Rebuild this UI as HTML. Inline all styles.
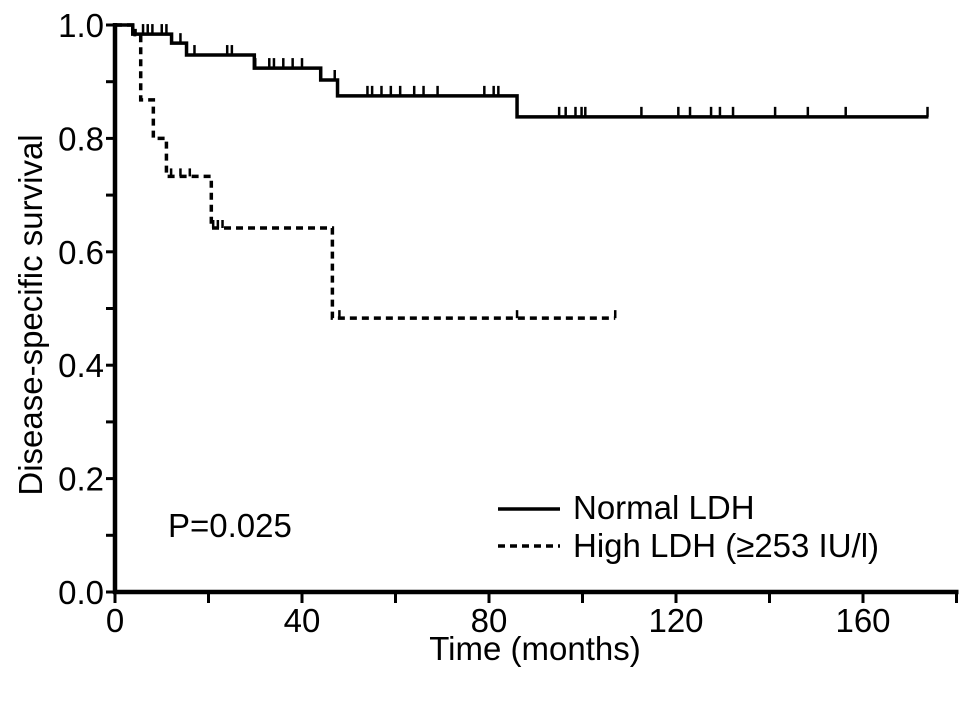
<!DOCTYPE html>
<html><head><meta charset="utf-8">
<style>
html,body{margin:0;padding:0;background:#fff;}
svg{display:block;font-family:"Liberation Sans",Arial,sans-serif;}
</style></head>
<body>
<svg id="chart" width="969" height="704" viewBox="0 0 969 704" xmlns="http://www.w3.org/2000/svg">
<g id="plot"></g>
</svg>
<script>
const xTicks = [0, 20, 40, 60, 80, 100, 120, 140, 160, 180];
const xTickLabels = ["0", "", "40", "", "80", "", "120", "", "160", ""];
const yTicks = [0, 0.1, 0.2, 0.3, 0.4, 0.5, 0.6, 0.7, 0.8, 0.9, 1.0];
const yTickLabels = ["0.0", "", "0.2", "", "0.4", "", "0.6", "", "0.8", "", "1.0"];

const normalTimes = [0, 3.8, 12.1, 15.3, 29.8, 44, 47.6, 86, 174];
const normalSurv = [1.0, 0.984, 0.968, 0.947, 0.924, 0.903, 0.875, 0.838, 0.838];
const normalCensor = [6, 7, 8, 10, 11, 14, 17, 24, 25, 30, 33, 34, 36, 38, 40, 44, 47, 54, 55, 57, 59, 61, 64, 66, 69, 79, 81, 82, 95, 96.4, 98.5, 99.8, 100.6, 112.6, 120.5, 123, 127.5, 129.4, 132.2, 141.2, 148.2, 156.3, 173.8];

const highTimes = [0, 4.3, 5.5, 8.2, 11, 20.6, 46.5, 107];
const highSurv = [1.0, 0.983, 0.868, 0.80, 0.733, 0.642, 0.483, 0.483];
const highCensor = [12, 14, 16, 21, 22, 23, 48, 86, 107];

const X0 = 115, XPM = 4.675, Y0 = 592, YH = 567;
function xs(t){ return X0 + XPM * t; }
function ys(s){ return Y0 - YH * s; }
function survAt(times, surv, t){ let v = surv[0]; for (let i = 0; i < times.length; i++) if (times[i] <= t) v = surv[i]; return v; }

const NS = "http://www.w3.org/2000/svg";
const g = document.getElementById("plot");
function mk(tag, attrs, parent){ const e = document.createElementNS(NS, tag); for (const k in attrs) e.setAttribute(k, attrs[k]); (parent || g).appendChild(e); return e; }

const FS = 33;

const yAxis = mk("line", {x1: X0, y1: ys(1.0) - 2, x2: X0, y2: Y0 + 2, stroke: "#000", "stroke-width": 4.5});


const xAxis = mk("line", {x1: X0 - 2, y1: Y0, x2: xs(180) + 2, y2: Y0, stroke: "#000", "stroke-width": 4.5});



xTicks.forEach((t, i) => {
  const tk = mk("line", {x1: xs(t), y1: Y0, x2: xs(t), y2: Y0 + 11, stroke: "#000", "stroke-width": 3});
  
  
  if (xTickLabels[i]) {
    const tl = mk("text", {x: xs(t), y: Y0 + 40, "text-anchor": "middle", "font-size": FS});
    tl.textContent = xTickLabels[i];
    
    
  }
});
yTicks.forEach((s, i) => {
  const tk = mk("line", {x1: X0 - 9, y1: ys(s), x2: X0, y2: ys(s), stroke: "#000", "stroke-width": 3});
  
  
  if (yTickLabels[i]) {
    const tl = mk("text", {x: X0 - 11, y: ys(s) + 12, "text-anchor": "end", "font-size": FS});
    tl.textContent = yTickLabels[i];
    
    
  }
});

function stepPath(times, surv){
  let d = "M" + xs(times[0]) + "," + ys(surv[0]);
  for (let i = 1; i < times.length; i++) {
    d += " H" + xs(times[i]) + " V" + ys(surv[i]);
  }
  return d;
}
const normalLine = mk("path", {d: stepPath(normalTimes, normalSurv), fill: "none", stroke: "#000", "stroke-width": 3.5});


normalCensor.forEach(t => {
  const s = survAt(normalTimes, normalSurv, t);
  const c = mk("line", {x1: xs(t), y1: ys(s), x2: xs(t), y2: ys(s) - 10, stroke: "#000", "stroke-width": 2.5});
  
  
});
const highLine = mk("path", {d: stepPath(highTimes, highSurv), fill: "none", stroke: "#000", "stroke-width": 3.5, "stroke-dasharray": "7,5"});


highCensor.forEach(t => {
  const s = survAt(highTimes, highSurv, t);
  const c = mk("line", {x1: xs(t), y1: ys(s), x2: xs(t), y2: ys(s) - 8, stroke: "#000", "stroke-width": 2.5});
  
  
});

const yt = mk("text", {x: 0, y: 0, transform: "translate(42,315) rotate(-90)", "text-anchor": "middle", "font-size": FS});
yt.textContent = "Disease-specific survival";


const xt = mk("text", {x: 535, y: 660, "text-anchor": "middle", "font-size": FS});
xt.textContent = "Time (months)";


const pv = mk("text", {x: 168, y: 537, "font-size": FS});
pv.textContent = "P=0.025";



const l1 = mk("line", {x1: 498, y1: 509, x2: 560, y2: 509, stroke: "#000", "stroke-width": 3.5});


const t1 = mk("text", {x: 573, y: 519, "font-size": FS});
t1.textContent = "Normal LDH";


const l2 = mk("line", {x1: 498, y1: 546, x2: 560, y2: 546, stroke: "#000", "stroke-width": 3.5, "stroke-dasharray": "7,5"});


const t2 = mk("text", {x: 573, y: 557, "font-size": FS});
t2.textContent = "High LDH (≥253 IU/l)";


</script>
</body></html>
